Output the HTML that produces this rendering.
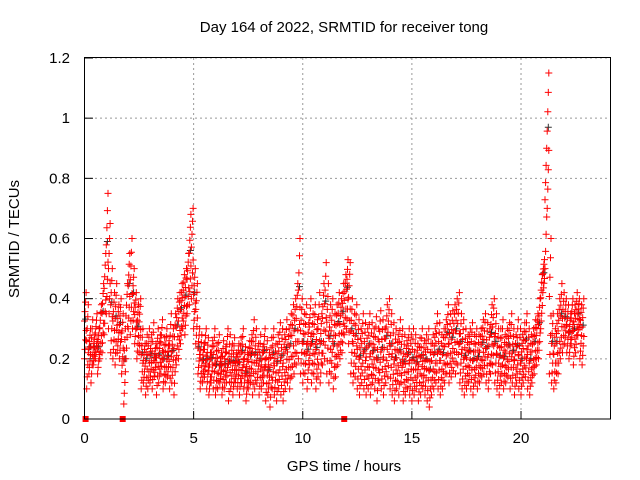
<!DOCTYPE html>
<html><head><meta charset="utf-8"><style>
body{margin:0;background:#fff}
svg{display:block;font-family:"Liberation Sans",sans-serif}
</style></head><body>
<svg id="chart" width="640" height="480" viewBox="0 0 640 480">
<text x="344" y="32" text-anchor="middle" font-size="15">Day 164 of 2022, SRMTID for receiver tong</text>
<text x="0" y="0" transform="translate(19,239) rotate(-90)" text-anchor="middle" font-size="15">SRMTID / TECUs</text>
<text x="344" y="471" text-anchor="middle" font-size="15">GPS time / hours</text>
<g id="grid"></g><g id="ticks"></g><g id="marks"></g>
<rect x="84.5" y="57.5" width="526" height="361.5" fill="none" stroke="#000"/>
</svg>
<script>
const xTicks=[0,5,10,15,20];
const yTicks=[0,0.2,0.4,0.6,0.8,1,1.2];
const yTickLabels=["0","0.2","0.4","0.6","0.8","1","1.2"];
const tStep=0.1;
const hiVals=[.42,.38,.30,.33,.28,.35,.30,.38,.45,.55,
.75,.65,.50,.42,.45,.38,.40,.35,.30,.45,
.55,.60,.50,.42,.38,.40,.30,.25,.28,.30,
.28,.32,.25,.30,.28,.33,.27,.30,.26,.35,
.30,.35,.40,.42,.45,.48,.50,.55,.68,.70,
.50,.45,.30,.28,.25,.30,.27,.22,.26,.30,
.25,.28,.22,.26,.24,.30,.28,.25,.27,.22,
.25,.27,.30,.24,.22,.26,.28,.33,.30,.25,
.28,.24,.30,.26,.22,.27,.30,.25,.28,.32,
.30,.28,.33,.30,.35,.38,.40,.45,.60,.40,
.35,.38,.32,.40,.35,.38,.33,.42,.35,.45,
.52,.45,.38,.40,.35,.38,.42,.40,.45,.48,
.53,.52,.40,.35,.38,.33,.30,.35,.32,.30,
.35,.32,.30,.34,.30,.36,.33,.30,.38,.40,
.35,.32,.30,.28,.33,.30,.28,.26,.30,.28,
.30,.28,.25,.27,.30,.26,.28,.30,.25,.28,
.30,.35,.32,.28,.30,.33,.38,.35,.36,.38,
.40,.42,.35,.33,.30,.28,.30,.32,.28,.30,
.28,.30,.33,.35,.32,.30,.38,.40,.35,.30,
.30,.33,.28,.30,.32,.35,.30,.28,.33,.30,
.28,.32,.35,.30,.28,.30,.33,.35,.40,.48,
.53,.90,1.15,.60,.35,.30,.35,.40,.45,.42,
.40,.38,.35,.40,.38,.42,.40,.38,.40];
const loVals=[.20,.10,.15,.12,.18,.20,.15,.20,.22,.28,
.35,.30,.22,.20,.18,.22,.20,.15,.05,.20,
.30,.28,.30,.25,.20,.22,.10,.12,.08,.10,
.12,.10,.14,.08,.12,.15,.10,.12,.14,.10,
.12,.08,.18,.20,.25,.30,.28,.35,.38,.40,
.30,.25,.15,.10,.12,.14,.10,.08,.12,.10,
.08,.10,.12,.08,.10,.12,.06,.10,.08,.12,
.10,.08,.12,.10,.06,.10,.12,.08,.10,.12,
.08,.10,.12,.06,.08,.04,.10,.08,.06,.10,
.08,.06,.10,.12,.10,.14,.15,.18,.20,.15,
.12,.15,.10,.18,.12,.15,.10,.14,.12,.18,
.20,.15,.12,.15,.10,.14,.18,.20,.22,.28,
.30,.25,.15,.12,.14,.10,.08,.12,.10,.08,
.10,.08,.12,.10,.06,.12,.10,.08,.12,.14,
.10,.08,.06,.10,.08,.12,.06,.08,.10,.08,
.06,.08,.10,.06,.08,.10,.08,.06,.04,.08,
.10,.12,.10,.08,.10,.12,.15,.12,.14,.16,
.15,.18,.12,.10,.08,.10,.12,.10,.08,.12,
.10,.12,.14,.15,.12,.10,.15,.18,.12,.10,
.08,.12,.10,.12,.14,.10,.12,.08,.12,.10,
.08,.12,.14,.10,.08,.12,.15,.18,.20,.30,
.42,.50,.70,.15,.12,.10,.12,.15,.20,.22,
.25,.22,.20,.25,.18,.22,.28,.20,.18];
const zeroTimes=[0.05,1.75,11.9];

const X=t=>84.5+t*(526/24.1);
const Y=v=>419-v*(361/1.2);
const NS="http://www.w3.org/2000/svg";
const g=id=>document.getElementById(id);
function mk(tag,attrs,parent){const e=document.createElementNS(NS,tag);for(const k in attrs)e.setAttribute(k,attrs[k]);g(parent).appendChild(e);return e;}
xTicks.forEach(t=>{
 if(t>0){const l=mk('line',{x1:X(t),x2:X(t),y1:58,y2:419,stroke:'#999','stroke-dasharray':'2,3'},'grid');
 
 }
 const tk=mk('line',{x1:X(t),x2:X(t),y1:419,y2:411,stroke:'#000'},'ticks');
 
 
 const tx=mk('text',{x:X(t),y:443,'text-anchor':'middle','font-size':15},'ticks');tx.textContent=t;
 
 
});
yTicks.forEach((v,i)=>{
 if(v>0){const l=mk('line',{x1:85,x2:610,y1:Y(v),y2:Y(v),stroke:'#999','stroke-dasharray':'2,3'},'grid');
 
 }
 const tk=mk('line',{x1:85,x2:93,y1:Y(v),y2:Y(v),stroke:'#000'},'ticks');
 
 
 const tx=mk('text',{x:70,y:Y(v)+5,'text-anchor':'end','font-size':15},'ticks');tx.textContent=yTickLabels[i];
 
 
});
let dk='',rd='';
const plus=(x,y)=>`M${(x-3.5).toFixed(1)} ${y.toFixed(1)}h7M${x.toFixed(1)} ${(y-3.5).toFixed(1)}v7`;
hiVals.forEach((h,i)=>{
 const t=i*tStep,l=loVals[i];
 if(i%2===0) dk+=plus(X(t+0.05),Y((h*0.6+l*0.4)));
 for(let k=0;k<=7;k++){
  const v=l+(h-l)*k/7;
  rd+=plus(X(t+(k%4)*0.025),Y(v));
 }
});
const pd=mk('path',{d:dk,stroke:'#333',fill:'none','stroke-width':1},'marks');


const pr=mk('path',{d:rd,stroke:'#f00',fill:'none','stroke-width':1},'marks');


zeroTimes.forEach(t=>{
 const r=mk('rect',{x:X(t)-3,y:416,width:6,height:6,fill:'#f00'},'marks');
 
 
});
</script>
</body></html>
